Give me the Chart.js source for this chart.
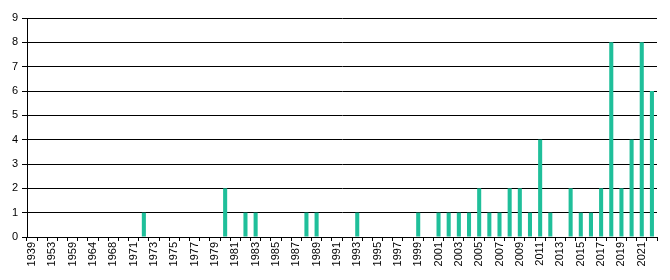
<!DOCTYPE html>
<html>
<head>
<meta charset="utf-8">
<script src="https://cdn.jsdelivr.net/npm/chart.js@4"></script>
<style>
  html, body { margin: 0; padding: 0; background: #fff; }
  #wrap { width: 670px; height: 280px; position: relative; }
</style>
</head>
<body>
<div id="wrap"><canvas id="c" width="670" height="280"></canvas></div>
<script>
const categories = ['1939','1948','1953','1957','1959','1962','1964','1966','1968','1970',
  '1971','1972','1973','1974','1975','1976','1977','1978','1979','1980',
  '1981','1982','1983','1984','1985','1986','1987','1988','1989','1990',
  '1991','1992','1993','1994','1995','1996','1997','1998','1999','2000',
  '2001','2002','2003','2004','2005','2006','2007','2008','2009','2010',
  '2011','2012','2013','2014','2015','2016','2017','2018','2019','2020',
  '2021','2022'];
const values = [0,0,0,0,0,0,0,0,0,0,
  0,1,0,0,0,0,0,0,0,2,
  0,1,1,0,0,0,0,1,1,0,
  0,0,1,0,0,0,0,0,1,0,
  1,1,1,1,2,1,1,2,2,1,
  4,1,0,2,1,1,2,8,2,4,
  8,6];
const yTicks = [0,1,2,3,4,5,6,7,8,9];

new Chart(document.getElementById('c'), {
  type: 'bar',
  data: {
    labels: categories,
    datasets: [{
      data: values,
      backgroundColor: '#1fbf9a',
      borderWidth: 0,
      barPercentage: 0.4,
      categoryPercentage: 1.0
    }]
  },
  options: {
    responsive: false,
    animation: false,
    layout: { padding: { top: 18, right: 13, left: 0, bottom: 0 } },
    plugins: { legend: { display: false }, tooltip: { enabled: false } },
    scales: {
      x: {
        offset: true,
        grid: { display: true, drawOnChartArea: false, offset: true, color: '#000', tickLength: 4 },
        border: { display: true, color: '#000', width: 1 },
        ticks: {
          autoSkip: false,
          maxRotation: 90, minRotation: 90,
          color: '#000',
          padding: 1,
          font: { family: 'Liberation Sans, Arial, sans-serif', size: 11 },
          callback: function(v, i) { return i % 2 === 0 ? this.getLabelForValue(v) : ''; }
        },
        afterFit: function(s) { s.height = 43; }
      },
      y: {
        min: 0, max: 9,
        afterBuildTicks: function(s) { s.ticks = yTicks.map(v => ({ value: v })); },
        grid: { color: '#000', tickLength: 5, lineWidth: 1 },
        border: { display: true, color: '#000', width: 1 },
        ticks: {
          color: '#000',
          padding: 4,
          font: { family: 'Liberation Sans, Arial, sans-serif', size: 11 }
        },
        afterFit: function(s) { s.width = 27; }
      }
    }
  }
});
</script>
</body>
</html>
